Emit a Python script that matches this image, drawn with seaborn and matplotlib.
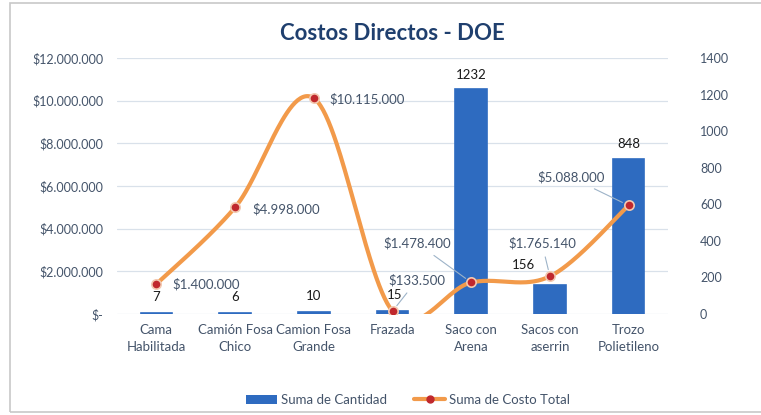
import numpy as np
import pandas as pd
import matplotlib
matplotlib.use("Agg")
import matplotlib.pyplot as plt
import seaborn as sns
from matplotlib.patches import Patch, Rectangle
from matplotlib.lines import Line2D

categories = ["Cama\nHabilitada", "Camión Fosa\nChico", "Camion Fosa\nGrande", "Frazada",
              "Saco con\nArena", "Sacos con\naserrin", "Trozo\nPolietileno"]
cantidad = [7, 6, 10, 15, 1232, 156, 848]
costo = [1400000, 4998000, 10115000, 133500, 1478400, 1765140, 5088000]
left_ticks = [0, 2000000, 4000000, 6000000, 8000000, 10000000, 12000000]
right_ticks = [0, 200, 400, 600, 800, 1000, 1200, 1400]

sns.set_theme(style="white")
plt.rcParams['font.family'] = ['Lato', 'DejaVu Sans']

TICK_C = "#44546A"
BAR_C = "#2E6BC0"
LINE_C = "#F29A4A"
MARK_C = "#C0282D"

def fmt_money(v):
    if v == 0:
        return "$-"
    return "$" + f"{v:,.0f}".replace(",", ".")

fig = plt.figure(figsize=(7.61, 4.15), dpi=100)
fig.patches.append(Rectangle((10/761, 3/415), 770/761, 409/415, transform=fig.transFigure,
                             fill=False, edgecolor="#C8C8C8", linewidth=1.2))
ax = fig.add_axes([117/761, 1-314/415, 551/761, 256/415])

df = pd.DataFrame({"cat": categories, "cantidad": cantidad, "costo": costo})
sns.barplot(data=df, x="cat", y="cantidad", ax=ax, color=BAR_C, width=0.4,
            saturation=1, zorder=2, edgecolor=BAR_C, linewidth=1.2)
ax.set_xlim(-0.5, len(categories) - 0.5)
ax.set_ylim(0, 1400)
ax.set_xlabel("")
ax.set_ylabel("")
for s in ax.spines.values():
    s.set_visible(False)
ax.grid(False)

ax2 = ax.twinx()
ax.yaxis.tick_right()
ax.yaxis.set_label_position("right")
ax.set_yticks(right_ticks)
ax.set_yticklabels([str(t) for t in right_ticks])
ax.tick_params(axis="y", left=False, right=False, labelleft=False, labelright=True,
               length=0, pad=23, labelsize=9, labelcolor=TICK_C)
ax.tick_params(axis="x", length=0, pad=7, labelsize=9.5, labelcolor=TICK_C)
for lbl in ax.get_xticklabels():
    lbl.set_linespacing(1.55)

ax2.yaxis.tick_left()
ax2.yaxis.set_label_position("left")
ax2.set_ylim(0, 12000000)
ax2.set_yticks(left_ticks)
ax2.set_yticklabels([fmt_money(t) for t in left_ticks])
ax2.tick_params(axis="y", left=False, right=False, labelleft=True, labelright=False,
                length=0, pad=10, labelsize=9, labelcolor=TICK_C)
for s in ax2.spines.values():
    s.set_visible(False)
for t in left_ticks:
    ax.axhline(t / 12000000 * 1400, color="#D9E1EA", linewidth=0.9, zorder=0)

# smoothed line (Catmull-Rom through the data points, like Excel's smoothed line)
xp = np.arange(len(costo), dtype=float)
yp = np.array(costo, dtype=float)
P = np.column_stack([xp, yp])
Pe = np.vstack([P[0], P, P[-1]])
curve = []
tt = np.linspace(0, 1, 60)
for i in range(len(P) - 1):
    p0, p1, p2, p3 = Pe[i], Pe[i + 1], Pe[i + 2], Pe[i + 3]
    b1 = p1 + (p2 - p0) / 6
    b2 = p2 - (p3 - p1) / 6
    seg = ((1 - tt)[:, None] ** 3 * p1 + 3 * ((1 - tt) ** 2 * tt)[:, None] * b1
           + 3 * ((1 - tt) * tt ** 2)[:, None] * b2 + (tt ** 3)[:, None] * p2)
    curve.append(seg)
curve = np.vstack(curve)
sns.lineplot(x=curve[:, 0], y=curve[:, 1], ax=ax2, sort=False, estimator=None,
             color=LINE_C, linewidth=3, zorder=3)
sns.scatterplot(x=xp, y=yp, ax=ax2, color=MARK_C, s=45, edgecolor="#F3C9B0",
                linewidth=1.2, zorder=4)
ax2.set_xlim(-0.5, len(categories) - 0.5)

# count labels
cnt_off = [(0, 16), (0, 16), (0, 16), (2, 16), (0, 14), (-26, 20), (0, 15)]
for i, (v, off) in enumerate(zip(cantidad, cnt_off)):
    ax2.annotate(str(v), xy=(i, v / 1400 * 12000000), xytext=off, textcoords="offset pixels",
                 ha="center", va="center", fontsize=9.5, color="#1A1A1A", zorder=6)

# cost labels
cost_off = [(16, 0, "left", False), (17, -2, "left", False), (16, -1, "left", False),
            (-4, 31, "left", True), (-20, 39, "right", True), (-8, 33, "center", True),
            (-24, 28, "right", True)]
for i, (v, (dx, dy, ha, lead)) in enumerate(zip(costo, cost_off)):
    ax2.annotate(fmt_money(v), xy=(i, v), xytext=(dx, dy), textcoords="offset pixels",
                 ha=ha, va="center", fontsize=9.5, color=TICK_C, zorder=6,
                 arrowprops=dict(arrowstyle="-", color="#9DB3C8", lw=0.8, shrinkA=3, shrinkB=5)
                 if lead else None)

ax.set_zorder(1)
ax2.set_zorder(2)
ax2.patch.set_visible(False)

fig.text(392/761, 1-34/415, "Costos Directos - DOE", ha="center", va="center",
         fontsize=16, fontweight="bold", color="#1F3F6E")

handles = [Patch(facecolor=BAR_C, edgecolor="none", label="Suma de Cantidad"),
           Line2D([0], [0], color=LINE_C, lw=3, marker="o", markersize=5,
                  markerfacecolor=MARK_C, markeredgecolor=MARK_C, label="Suma de Costo Total")]
fig.legend(handles=handles, loc="center", bbox_to_anchor=(408/761, 1-400/415), ncol=2,
           frameon=False, fontsize=9.5, labelcolor=TICK_C, handlelength=2.4,
           handletextpad=0.3, columnspacing=2.0)

fig.savefig("out.png", dpi=100)
